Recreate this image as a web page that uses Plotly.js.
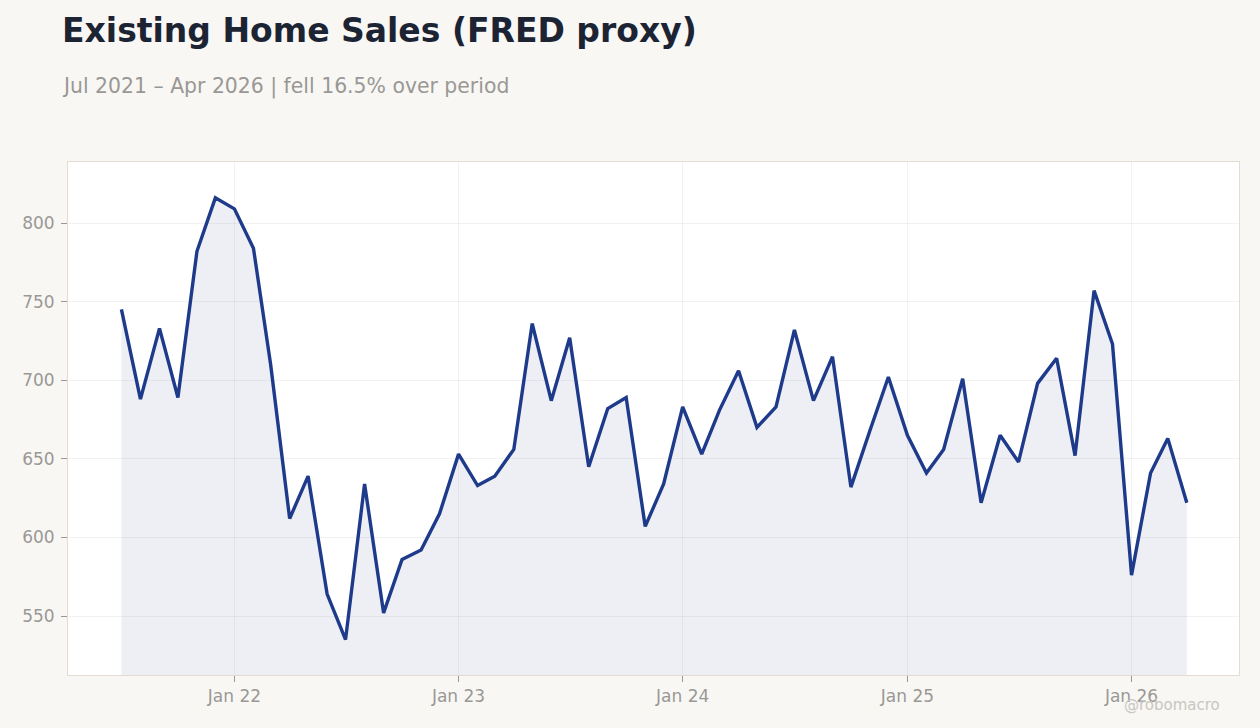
<!DOCTYPE html>
<html>
<head>
<meta charset="utf-8">
<script src="https://cdn.plot.ly/plotly-3.0.1.min.js"></script>
<style>
  html, body { margin: 0; padding: 0; background: #f8f7f4; }
  #chart { width: 1260px; height: 728px; }
</style>
</head>
<body>
<div id="chart"></div>
<script>
// Monthly existing home sales proxy, Jul 2021 .. Apr 2026
var startYear = 2021;
var startMonth = 7;
var sales = [
  745, 688, 733, 689, 782, 816,
  809, 784, 710, 612, 639, 564, 535, 634, 552, 586, 592, 615,
  653, 633, 639, 656, 736, 687, 727, 645, 682, 689, 607, 634,
  683, 653, 681, 706, 670, 683, 732, 687, 715, 632, 668, 702,
  665, 641, 656, 701, 622, 665, 648, 698, 714, 652, 757, 723,
  576, 641, 663, 622
];
var tickDates = ['2022-01-01', '2023-01-01', '2024-01-01', '2025-01-01', '2026-01-01'];
var tickLabels = ['Jan 22', 'Jan 23', 'Jan 24', 'Jan 25', 'Jan 26'];
var yTicks = [550, 600, 650, 700, 750, 800];

function monthStr(i) {
  var m = startMonth - 1 + i;
  var y = startYear + Math.floor(m / 12);
  var mm = (m % 12) + 1;
  return y + '-' + (mm < 10 ? '0' + mm : mm) + '-01';
}
var dates = sales.map(function (_, i) { return monthStr(i); });

var gridColor = 'rgba(0,0,0,0.05)';
var tickColor = '#9a9894';

var trace = {
  type: 'scatter',
  mode: 'lines',
  x: dates,
  y: sales,
  fill: 'tozeroy',
  fillcolor: 'rgba(40,55,120,0.08)',
  line: { color: '#1e3a8a', width: 3.4 },
  hoverinfo: 'x+y'
};

var layout = {
  width: 1260,
  height: 728,
  paper_bgcolor: '#f8f7f4',
  plot_bgcolor: '#ffffff',
  margin: { t: 162, r: 21, b: 53, l: 68 },
  showlegend: false,
  font: { family: '"DejaVu Sans", sans-serif', size: 17, color: tickColor },
  xaxis: {
    type: 'date',
    range: ['2021-04-05', '2026-06-25'],
    tickvals: tickDates,
    ticktext: tickLabels,
    showgrid: true,
    gridcolor: gridColor,
    zeroline: false,
    ticks: 'outside',
    ticklen: 6,
    tickcolor: tickColor,
    showline: true,
    linecolor: '#e3dcd2',
    linewidth: 1,
    mirror: true,
    tickfont: { size: 17, color: tickColor }
  },
  yaxis: {
    range: [512.5, 838.8],
    tickvals: yTicks,
    showgrid: true,
    gridcolor: gridColor,
    zeroline: false,
    ticks: 'outside',
    ticklen: 6,
    tickcolor: tickColor,
    ticklabelstandoff: 3,
    showline: true,
    linecolor: '#e3dcd2',
    linewidth: 1,
    mirror: true,
    tickfont: { size: 17, color: tickColor }
  },
  annotations: [
    {
      text: '<b>Existing Home Sales (FRED proxy)</b>',
      xref: 'paper', yref: 'paper',
      x: -0.0065, y: 1.2554,
      xanchor: 'left', yanchor: 'middle',
      showarrow: false,
      font: { family: '"DejaVu Sans", sans-serif', size: 33, color: '#1c2434' }
    },
    {
      text: 'Jul 2021 – Apr 2026 | fell 16.5% over period',
      xref: 'paper', yref: 'paper',
      x: -0.0065, y: 1.148,
      xanchor: 'left', yanchor: 'middle',
      showarrow: false,
      font: { family: '"DejaVu Sans", sans-serif', size: 20.4, color: '#9a9894' }
    },
    {
      text: '@robomacro',
      xref: 'paper', yref: 'paper',
      x: 0.9855, y: -0.0585,
      xanchor: 'right', yanchor: 'middle',
      showarrow: false,
      font: { family: '"DejaVu Sans", sans-serif', size: 15, color: '#c8c6c2' }
    }
  ]
};

Plotly.newPlot('chart', [trace], layout, { displayModeBar: false });
</script>
</body>
</html>
